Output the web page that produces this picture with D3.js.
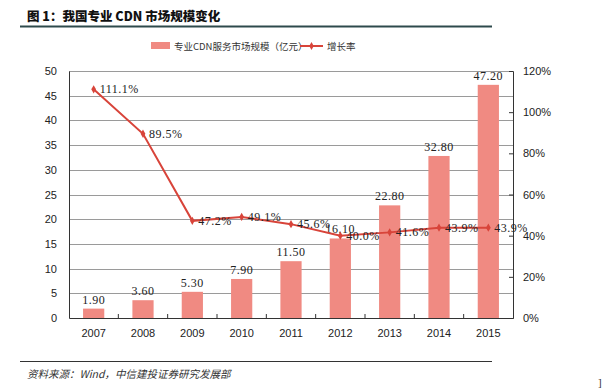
<!DOCTYPE html>
<html>
<head>
<meta charset="utf-8">
<script src="https://cdn.jsdelivr.net/npm/d3@7"></script>
<style>
  body { margin: 0; background: #fff; }
  svg { display: block; }
</style>
</head>
<body>
<div id="chart"></div>
<script>
// chart data
var years = ["2007", "2008", "2009", "2010", "2011", "2012", "2013", "2014", "2015"];
var marketSize = [1.9, 3.6, 5.3, 7.9, 11.5, 16.1, 22.8, 32.8, 47.2];
var growthRate = [111.1, 89.5, 47.2, 49.1, 45.6, 40.0, 41.6, 43.9, 43.9];
var leftTicks = [0, 5, 10, 15, 20, 25, 30, 35, 40, 45, 50];
var rightTicks = [0, 20, 40, 60, 80, 100, 120];

var W = 610, H = 391;
var margin = {top: 71, right: 97, bottom: 73, left: 69};
var width = W - margin.left - margin.right;
var height = H - margin.top - margin.bottom;

var barColor = "#f08a82";
var lineColor = "#d8443a";
var cnFont = "'Noto Sans CJK SC', sans-serif";
var numFont = "'Liberation Serif', 'DejaVu Serif', serif";

var svg = d3.select("#chart").append("svg")
    .attr("width", W)
    .attr("height", H);

// title + rules
svg.append("text")
    .attr("x", 27).attr("y", 21)
    .style("font-family", cnFont)
    .style("font-weight", "900")
    .style("font-size", "12.5px")
    .style("fill", "#111")
    .text("图 1：我国专业 CDN 市场规模变化");
svg.append("line")
    .attr("x1", 20).attr("x2", 492).attr("y1", 26.5).attr("y2", 26.5)
    .style("stroke", "#2e4a4c").style("stroke-width", 2);
svg.append("line")
    .attr("x1", 20).attr("x2", 492).attr("y1", 361.5).attr("y2", 361.5)
    .style("stroke", "#333").style("stroke-width", 1);
svg.append("text")
    .attr("x", 27).attr("y", 378)
    .style("font-family", cnFont)
    .style("font-style", "italic")
    .style("font-size", "10.5px")
    .style("fill", "#333")
    .text("资料来源：Wind，中信建投证券研究发展部");
svg.append("text")
    .attr("x", 598).attr("y", 386)
    .style("font-family", numFont)
    .style("font-size", "11px")
    .style("fill", "#333")
    .text("]");

// legend
var legend = svg.append("g");
legend.append("rect")
    .attr("x", 151).attr("y", 42).attr("width", 19).attr("height", 7)
    .style("fill", barColor);
legend.append("text")
    .attr("x", 174).attr("y", 49.5)
    .style("font-family", cnFont)
    .style("font-size", "9.5px")
    .style("fill", "#333")
    .text("专业CDN服务市场规模（亿元）");
legend.append("line")
    .attr("x1", 300).attr("x2", 323).attr("y1", 46).attr("y2", 46)
    .style("stroke", lineColor).style("stroke-width", 2);
legend.append("path")
    .attr("d", d3.symbol(d3.symbolDiamond, 18)())
    .attr("transform", "translate(311.5,46)")
    .style("fill", lineColor);
legend.append("text")
    .attr("x", 327).attr("y", 49.5)
    .style("font-family", cnFont)
    .style("font-size", "9.5px")
    .style("fill", "#333")
    .text("增长率");

var g = svg.append("g")
    .attr("transform", "translate(" + margin.left + "," + margin.top + ")");

var x = d3.scaleBand().domain(years).range([0, width]).paddingInner(0.57).paddingOuter(0.285);
var xOuter = d3.scaleBand().domain(years).range([0, width]);
var yL = d3.scaleLinear().domain([0, 50]).range([height, 0]);
var yR = d3.scaleLinear().domain([0, 120]).range([height, 0]);

// grid
g.selectAll(".grid").data(leftTicks.slice(1))
    .enter().append("line")
    .attr("class", "grid")
    .attr("x1", 0).attr("x2", width)
    .attr("y1", function(d) { return Math.round(yL(d)) + 0.5; })
    .attr("y2", function(d) { return Math.round(yL(d)) + 0.5; })
    .style("stroke", "#9a9a9a").style("stroke-width", 1);

// bars
g.selectAll(".bar").data(marketSize)
    .enter().append("rect")
    .attr("class", "bar")
    .attr("x", function(d, i) { return x(years[i]); })
    .attr("width", x.bandwidth())
    .attr("y", function(d) { return yL(d); })
    .attr("height", function(d) { return height - yL(d); })
    .style("fill", barColor);

g.selectAll(".barLabel").data(marketSize)
    .enter().append("text")
    .attr("class", "barLabel")
    .attr("x", function(d, i) { return x(years[i]) + x.bandwidth() / 2; })
    .attr("y", function(d) { return yL(d) - 5; })
    .attr("text-anchor", "middle")
    .style("font-family", numFont)
    .style("font-size", "12px")
    .style("letter-spacing", "0.5px")
    .style("fill", "#222")
    .text(function(d) { return d.toFixed(2); });

// axes
var axisL = d3.axisLeft(yL).tickValues(leftTicks).tickSize(0).tickPadding(12);
var gL = g.append("g").call(axisL);
gL.select(".domain").style("stroke", "#333");
gL.selectAll("text")
    .style("font-family", "'Liberation Sans', Arial, sans-serif")
    .style("font-size", "11px").style("fill", "#222");

var axisR = d3.axisRight(yR).tickValues(rightTicks).tickSize(-4).tickPadding(10)
    .tickFormat(function(d) { return d + "%"; });
var gR = g.append("g").attr("transform", "translate(" + width + ",0)").call(axisR);
gR.select(".domain").style("stroke", "#333");
gR.selectAll("line").style("stroke", "#333");
gR.selectAll("text")
    .style("font-family", "'Liberation Sans', Arial, sans-serif")
    .style("font-size", "11px").style("fill", "#222");

var axisB = d3.axisBottom(xOuter).tickSize(0).tickPadding(11);
var gB = g.append("g").attr("transform", "translate(0," + height + ")").call(axisB);
gB.select(".domain").style("stroke", "#333");
gB.selectAll("text")
    .style("font-family", "'Liberation Sans', Arial, sans-serif")
    .style("font-size", "11px").style("fill", "#222");
gB.selectAll(".sep").data(years.slice(1))
    .enter().append("line")
    .attr("class", "sep")
    .attr("x1", function(d) { return xOuter(d); })
    .attr("x2", function(d) { return xOuter(d); })
    .attr("y1", 0).attr("y2", -4)
    .style("stroke", "#333");

// growth line
var line = d3.line()
    .x(function(d, i) { return xOuter(years[i]) + xOuter.bandwidth() / 2; })
    .y(function(d) { return yR(d); });

g.append("path")
    .datum(growthRate)
    .attr("d", line)
    .style("fill", "none")
    .style("stroke", lineColor)
    .style("stroke-width", 2);

g.selectAll(".marker").data(growthRate)
    .enter().append("path")
    .attr("class", "marker")
    .attr("d", d3.symbol(d3.symbolDiamond, 20)())
    .attr("transform", function(d, i) {
        return "translate(" + (xOuter(years[i]) + xOuter.bandwidth() / 2) + "," + yR(d) + ")";
    })
    .style("fill", lineColor);

g.selectAll(".lineLabel").data(growthRate)
    .enter().append("text")
    .attr("class", "lineLabel")
    .attr("x", function(d, i) { return xOuter(years[i]) + xOuter.bandwidth() / 2 + 6; })
    .attr("y", function(d) { return yR(d) + 4; })
    .style("font-family", numFont)
    .style("font-size", "12px")
    .style("letter-spacing", "0.5px")
    .style("fill", "#222")
    .text(function(d) { return d.toFixed(1) + "%"; });
</script>
</body>
</html>
